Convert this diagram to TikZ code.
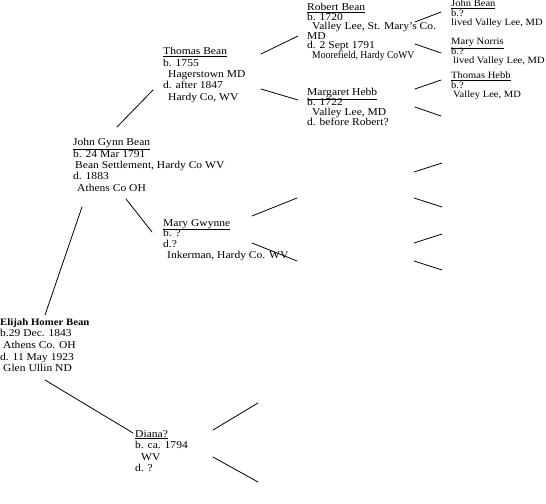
\documentclass[tikz,border=0pt]{standalone}
\usepackage{fontspec}
\setmainfont{Liberation Serif}[FakeStretch=1.1]
\newcommand\person[2]{\vtop{\baselineskip=#1\lineskiplimit=-\maxdimen\lineskip=0pt\halign{##\hfil\cr#2\crcr}}}
\tikzset{
  pers/.style={anchor=base west, inner sep=0pt, font=\fontsize{10.5bp}{12bp}\selectfont},
  small/.style={font=\fontsize{9.6bp}{11bp}\selectfont},
  branch/.style={line width=0.8bp, line cap=round}
}
\begin{document}
\begin{tikzpicture}[x=1bp,y=-1bp]
\fill[white] (0,0) rectangle (546,504);
\useasboundingbox (0,0) rectangle (546,504);
% generation 0
\node[pers] (elijah) at (0,325) {\person{11.7bp}{{\fontsize{9.8bp}{11.7bp}\selectfont\bfseries Elijah Homer Bean}\cr b.29 Dec. 1843\cr \hspace*{3bp}Athens Co. OH\cr d. 11 May 1923\cr \hspace*{3bp}Glen Ullin ND}};
% generation 1
\node[pers] (john) at (73,146) {\person{11.3bp}{\underline{John Gynn Bean}\cr b. 24 Mar 1791\cr \hspace*{2bp}Bean Settlement, Hardy Co WV\cr d. 1883\cr \hspace*{4bp}Athens Co OH}};
\node[pers] (diana) at (135,437) {\person{11.5bp}{\underline{Diana?}\cr b. ca. 1794\cr \hspace*{6bp}WV\cr d. ?}};
% generation 2
\node[pers] (thomas) at (163,55) {\person{11.3bp}{\underline{Thomas Bean}\cr b. 1755\cr \hspace*{5bp}Hagerstown MD\cr d. after 1847\cr \hspace*{5bp}Hardy Co, WV}};
\node[pers] (mary) at (163,226) {\person{10.8bp}{\underline{Mary Gwynne}\cr b. ?\cr d.?\cr \hspace*{4bp}Inkerman, Hardy Co. WV}};
% generation 3
\node[pers] (robert) at (307,11) {\person{9.5bp}{\underline{Robert Bean}\cr b. 1720\cr \hspace*{5bp}Valley Lee, St. Mary's Co.\cr MD\cr d. 2 Sept 1791\cr \hspace*{5bp}{\addfontfeature{FakeStretch=0.92}Moorefield, Hardy CoWV}}};
\node[pers] (margaret) at (307,96) {\person{10bp}{\underline{Margaret Hebb}\cr b. 1722\cr \hspace*{5bp}Valley Lee, MD\cr d. before Robert?}};
% generation 4
\node[pers,small] (johnbean) at (451,7) {\person{9.5bp}{\underline{John Bean}\cr b.?\cr lived Valley Lee, MD}};
\node[pers,small] (marynorris) at (451,45) {\person{9.5bp}{\underline{Mary Norris}\cr b.?\cr \hspace*{2bp}lived Valley Lee, MD}};
\node[pers,small] (thomashebb) at (451,79) {\person{9.5bp}{\underline{Thomas Hebb}\cr b.?\cr \hspace*{2bp}Valley Lee, MD}};
% connector end points
\coordinate (eA) at (45,315);  \coordinate (jA) at (82,207);
\coordinate (eB) at (45,380);  \coordinate (dA) at (133,433);
\coordinate (jB) at (117,127); \coordinate (tA) at (153,90);
\coordinate (jC) at (126,199); \coordinate (mA) at (152,232);
\coordinate (tB) at (261,54);  \coordinate (rA) at (298,36);
\coordinate (tC) at (261,89);  \coordinate (gA) at (298,100);
\coordinate (rB) at (415,22);  \coordinate (jbA) at (441,12);
\coordinate (rC) at (415,44);  \coordinate (mnA) at (441,53);
\coordinate (gB) at (415,89);  \coordinate (thA) at (441,80);
\coordinate (gC) at (415,107); \coordinate (x1) at (441,116);
\coordinate (mB) at (252,216); \coordinate (x2) at (297,198);
\coordinate (mC) at (252,243); \coordinate (x3) at (297,261);
\coordinate (x4) at (414,172); \coordinate (x5) at (442,163);
\coordinate (x6) at (414,198); \coordinate (x7) at (442,207);
\coordinate (x8) at (414,243); \coordinate (x9) at (442,234);
\coordinate (x10) at (414,261); \coordinate (x11) at (442,270);
\coordinate (dB) at (213,430); \coordinate (x12) at (258,403);
\coordinate (dC) at (213,457); \coordinate (x13) at (258,482);
% connectors
\draw[branch] (eA) -- (jA);
\draw[branch] (eB) -- (dA);
\draw[branch] (jB) -- (tA);
\draw[branch] (jC) -- (mA);
\draw[branch] (tB) -- (rA);
\draw[branch] (tC) -- (gA);
\draw[branch] (rB) -- (jbA);
\draw[branch] (rC) -- (mnA);
\draw[branch] (gB) -- (thA);
\draw[branch] (gC) -- (x1);
\draw[branch] (mB) -- (x2);
\draw[branch] (mC) -- (x3);
\draw[branch] (x4) -- (x5);
\draw[branch] (x6) -- (x7);
\draw[branch] (x8) -- (x9);
\draw[branch] (x10) -- (x11);
\draw[branch] (dB) -- (x12);
\draw[branch] (dC) -- (x13);
\end{tikzpicture}
\end{document}
